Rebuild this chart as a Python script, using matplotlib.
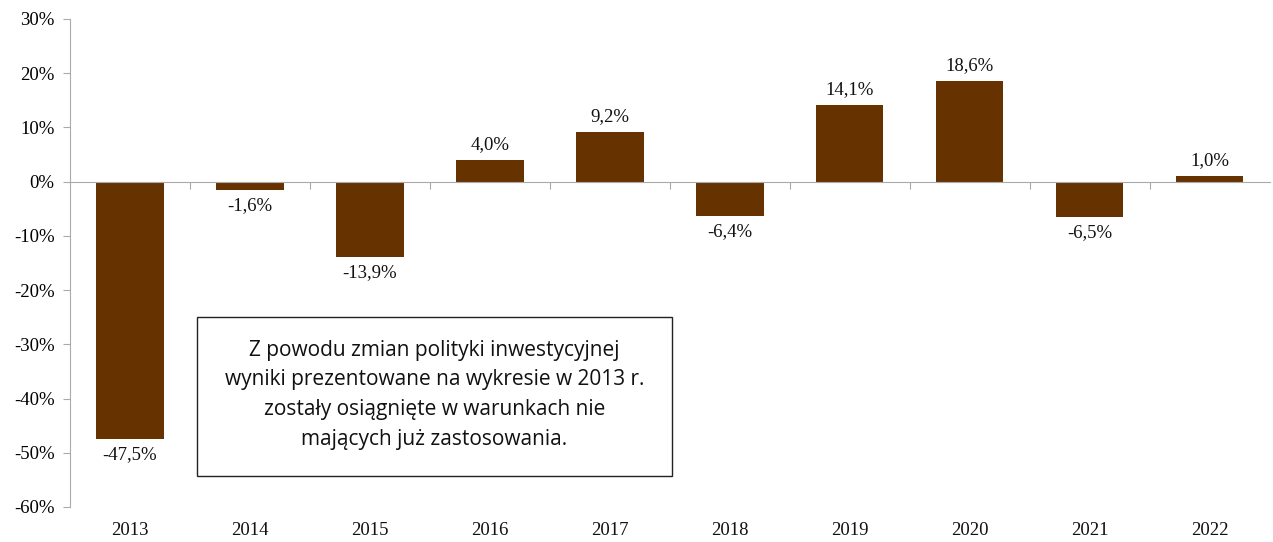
import numpy as np
import matplotlib.pyplot as plt
from matplotlib.patches import Rectangle
from matplotlib.ticker import FuncFormatter

years = ['2013', '2014', '2015', '2016', '2017', '2018', '2019', '2020', '2021', '2022']
returns = [-47.5, -1.6, -13.9, 4.0, 9.2, -6.4, 14.1, 18.6, -6.5, 1.0]
note = ("Z powodu zmian polityki inwestycyjnej\n"
        "wyniki prezentowane na wykresie w 2013 r.\n"
        "zostały osiągnięte w warunkach nie\n"
        "mających już zastosowania.")

plt.rcParams['font.family'] = ['Liberation Serif', 'DejaVu Serif']

fig = plt.figure(figsize=(12.73, 5.42), dpi=100)
ax = fig.add_axes([0.055, 0.0646, 0.9425, 0.9004])

x = np.arange(len(years))
ax.bar(x, returns, width=0.56, color='#663300', zorder=2)

for xi, v in zip(x, returns):
    lbl = f"{v:.1f}%".replace('.', ',')
    if v >= 0:
        ax.annotate(lbl, (xi, v), xytext=(0, 5), textcoords='offset points',
                    ha='center', va='bottom', fontsize=13.5, color='#111111')
    else:
        ax.annotate(lbl, (xi, v), xytext=(0, -5), textcoords='offset points',
                    ha='center', va='top', fontsize=13.5, color='#111111')

ax.set_xlim(-0.5, len(years) - 0.5)
ax.set_ylim(-60, 30)
ax.set_yticks(np.arange(-60, 31, 10))
ax.yaxis.set_major_formatter(FuncFormatter(lambda v, p: f"{v:.0f}%"))
ax.tick_params(axis='y', labelsize=13.5, length=5, color='#aaaaaa', pad=6)

ax.spines['top'].set_visible(False)
ax.spines['right'].set_visible(False)
ax.spines['left'].set_color('#aaaaaa')
ax.spines['bottom'].set_position(('data', 0))
ax.spines['bottom'].set_color('#aaaaaa')
ax.set_xticks(np.arange(0.5, len(years) - 0.5, 1))
ax.set_xticklabels([])
ax.tick_params(axis='x', length=5, color='#aaaaaa')

for xi, yr in zip(x, years):
    ax.text(xi, -0.03, yr, transform=ax.get_xaxis_transform(), ha='center', va='top',
            fontsize=13.5, color='#111111')

# note box
ax.add_patch(Rectangle((0.558, -54.3), 3.96, 29.4, facecolor='white',
                       edgecolor='#222222', linewidth=1, zorder=3))
ax.text(2.537, -39.3, note, ha='center', va='center', fontsize=15,
        family=['Open Sans', 'DejaVu Sans'], linespacing=1.55, color='#111111', zorder=4)

fig.savefig('out.png', dpi=100)
